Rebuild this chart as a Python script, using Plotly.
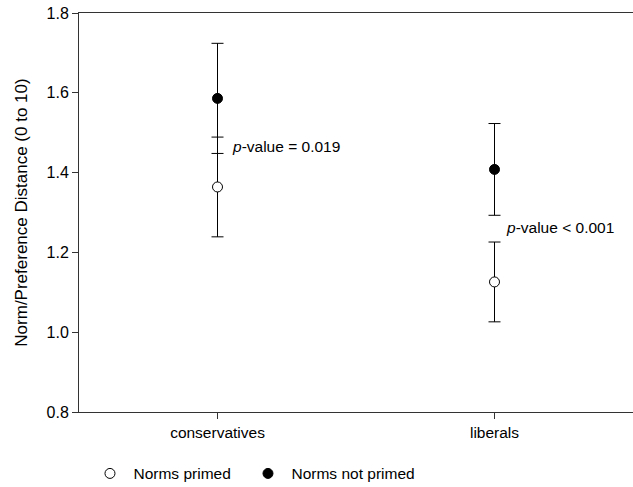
import plotly.graph_objects as go

categories = ["conservatives", "liberals"]
primed_mean = [1.364, 1.126]
primed_err = [0.125, 0.100]
not_primed_mean = [1.586, 1.408]
not_primed_err = [0.138, 0.115]
y_ticks = [0.8, 1.0, 1.2, 1.4, 1.6, 1.8]
p_labels = ["<i>p</i>-value = 0.019", "<i>p</i>-value < 0.001"]
p_label_y = [1.466, 1.262]

FONT = "Liberation Sans, Arial, sans-serif"

fig = go.Figure()
xs = [0, 1]
fig.add_trace(go.Scatter(
    x=xs, y=primed_mean, mode="markers", name="Norms primed", legend="legend",
    marker=dict(symbol="circle", size=10, color="white", line=dict(color="black", width=1)),
    error_y=dict(type="data", array=primed_err, visible=True, color="black", thickness=1, width=6),
))
fig.add_trace(go.Scatter(
    x=xs, y=not_primed_mean, mode="markers", name="Norms not primed", legend="legend2",
    marker=dict(symbol="circle", size=10, color="black", line=dict(color="black", width=1)),
    error_y=dict(type="data", array=not_primed_err, visible=True, color="black", thickness=1, width=6),
))

for xi, txt, yy, sh in zip(xs, p_labels, p_label_y, [12, 9]):
    fig.add_annotation(x=xi, y=yy, text=txt, showarrow=False, xanchor="left", xshift=sh,
                       font=dict(family=FONT, size=15.5, color="black"))

legend_common = dict(orientation="h", y=-0.155, xanchor="left", yanchor="middle",
                     font=dict(family=FONT, size=15.5), itemwidth=37,
                     bgcolor="rgba(0,0,0,0)")

fig.update_layout(
    width=633, height=487,
    margin=dict(l=79, r=0, t=13, b=75, autoexpand=False),
    paper_bgcolor="white", plot_bgcolor="white",
    font=dict(family=FONT, size=15.5, color="black"),
    showlegend=True,
    legend=dict(x=0.0135, **legend_common),
    legend2=dict(x=0.2987, **legend_common),
    xaxis=dict(
        range=[-0.5, 1.5], tickmode="array", tickvals=xs, ticktext=categories,
        showline=True, linecolor="#333333", linewidth=1, mirror=True,
        ticks="outside", ticklen=6, tickcolor="#333333", showgrid=False, zeroline=False,
        tickfont=dict(size=15.5), automargin=False,
    ),
    yaxis=dict(
        range=[0.8, 1.8], tickmode="array", tickvals=y_ticks,
        ticktext=[f"{v:.1f}" for v in y_ticks],
        showline=True, linecolor="#333333", linewidth=1,
        ticks="outside", ticklen=6, tickcolor="#333333", showgrid=False, zeroline=False,
        title=dict(text="Norm/Preference Distance (0 to 10)", font=dict(size=17), standoff=14),
        tickfont=dict(size=16), automargin=True,
    ),
)

fig.write_html("out.html", post_script="document.body.style.margin='0';",
               config={"displayModeBar": False})
